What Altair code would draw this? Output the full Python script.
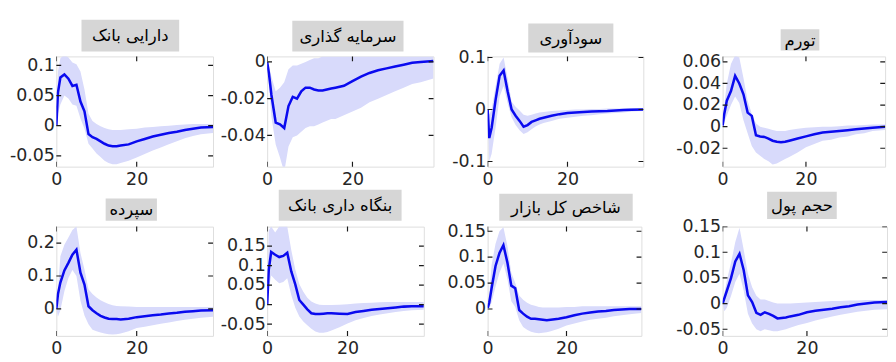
import altair as alt
import pandas as pd

# ---------------- data ----------------
T = [0, 0.4, 1, 2, 3, 4, 5, 6, 7, 8, 9, 10, 11, 12, 13, 14, 15, 16,
     18, 20, 22, 24, 26, 28, 30, 32, 34, 36, 39]

TITLES = ["دارایی بانک", "سرمایه گذاری", "سودآوری", "تورم",
          "سپرده", "بنگاه داری بانک", "شاخص کل بازار", "حجم پول"]

P1_MID = [0.0, 0.055, 0.08, 0.085, 0.078, 0.066, 0.068, 0.04, 0.024, -0.014, -0.019, -0.022, -0.026, -0.03, -0.033,
          -0.034, -0.034, -0.033, -0.031, -0.026, -0.022, -0.018, -0.015, -0.012, -0.01, -0.007, -0.005, -0.003, -0.002]
P1_HI = [0.0, 0.09, 0.112, 0.118, 0.113, 0.105, 0.102, 0.09, 0.06, 0.02, 0.008, 0.003, -0.001, -0.004, -0.006,
         -0.007, -0.007, -0.007, -0.006, -0.005, -0.003, -0.002, -0.001, 0.0, 0.001, 0.002, 0.003, 0.003, 0.003]
P1_LO = [0.0, 0.02, 0.035, 0.05, 0.045, 0.035, 0.033, 0.012, -0.005, -0.03, -0.038, -0.046, -0.052, -0.058, -0.062,
         -0.064, -0.064, -0.062, -0.058, -0.053, -0.047, -0.041, -0.036, -0.031, -0.026, -0.021, -0.017, -0.014, -0.012]

P2_MID = [0.0, -0.006, -0.018, -0.033, -0.034, -0.036, -0.024, -0.019, -0.02, -0.016, -0.014, -0.014, -0.015, -0.0155,
          -0.0155, -0.015, -0.0145, -0.014, -0.013, -0.0105, -0.008, -0.006, -0.0045, -0.0035, -0.0025, -0.0015,
          -0.0005, 0.0, 0.0005]
P2_HI = [0.0, -0.002, -0.008, -0.016, -0.014, -0.011, -0.004, -0.002, -0.002, -0.001, 0.0, 0.001, 0.002, 0.002,
         0.003, 0.003, 0.003, 0.003, 0.003, 0.003, 0.003, 0.003, 0.003, 0.003, 0.003, 0.003, 0.003, 0.003, 0.003]
P2_LO = [0.0, -0.012, -0.03, -0.045, -0.052, -0.06, -0.046, -0.041, -0.04, -0.038, -0.036, -0.035, -0.035, -0.034,
         -0.033, -0.032, -0.031, -0.031, -0.029, -0.027, -0.025, -0.022, -0.02, -0.018, -0.016, -0.014, -0.012,
         -0.011, -0.009]

P3_MID = [0.0, -0.055, -0.035, 0.019, 0.065, 0.075, 0.035, 0.0, -0.012, -0.022, -0.033, -0.03, -0.024, -0.021,
          -0.018, -0.016, -0.014, -0.012, -0.009, -0.007, -0.006, -0.005, -0.004, -0.0035, -0.003, -0.002, -0.0012,
          -0.0005, 0.0]
P3_HI = [0.0, -0.01, 0.0, 0.045, 0.088, 0.1, 0.06, 0.015, 0.005, -0.002, -0.01, -0.012, -0.01, -0.008, -0.006,
         -0.005, -0.004, -0.003, -0.002, -0.001, 0.0, 0.0, 0.001, 0.001, 0.002, 0.002, 0.002, 0.003, 0.003]
P3_LO = [0.0, -0.1, -0.085, -0.034, 0.025, 0.045, 0.012, -0.015, -0.03, -0.04, -0.047, -0.044, -0.038, -0.033,
         -0.029, -0.026, -0.024, -0.022, -0.018, -0.016, -0.014, -0.012, -0.011, -0.009, -0.008, -0.007, -0.006,
         -0.004, -0.003]

P4_MID = [0.001, 0.012, 0.024, 0.033, 0.047, 0.04, 0.03, 0.013, 0.01, -0.008, -0.009, -0.0095, -0.011, -0.013,
          -0.014, -0.0145, -0.014, -0.013, -0.011, -0.009, -0.007, -0.0055, -0.0048, -0.004, -0.0033, -0.0025,
          -0.0017, -0.001, 0.0]
P4_HI = [0.001, 0.02, 0.04, 0.058, 0.066, 0.064, 0.045, 0.024, 0.012, 0.003, 0.0, -0.001, -0.002, -0.003, -0.004,
         -0.004, -0.004, -0.003, -0.002, -0.001, -0.0005, 0.0, 0.0, 0.0005, 0.001, 0.001, 0.0015, 0.002, 0.002]
P4_LO = [0.001, 0.004, 0.01, 0.02, 0.028, 0.022, 0.006, -0.006, -0.018, -0.024, -0.027, -0.03, -0.032, -0.035,
         -0.034, -0.032, -0.03, -0.028, -0.024, -0.019, -0.016, -0.013, -0.012, -0.01, -0.009, -0.007, -0.006,
         -0.004, -0.003]

P5_MID = [0.0, 0.045, 0.08, 0.117, 0.14, 0.165, 0.18, 0.11, 0.074, 0.008, -0.004, -0.013, -0.021, -0.026, -0.03,
          -0.031, -0.031, -0.032, -0.03, -0.025, -0.022, -0.019, -0.017, -0.014, -0.012, -0.009, -0.007, -0.005,
          -0.004]
P5_HI = [0.0, 0.06, 0.16, 0.195, 0.217, 0.24, 0.25, 0.17, 0.12, 0.06, 0.045, 0.035, 0.026, 0.02, 0.015, 0.011,
         0.009, 0.008, 0.007, 0.006, 0.006, 0.006, 0.006, 0.006, 0.006, 0.006, 0.006, 0.006, 0.006]
P5_LO = [0.0, -0.024, -0.004, 0.054, 0.094, 0.118, 0.1, 0.025, -0.02, -0.047, -0.063, -0.068, -0.072, -0.075,
         -0.077, -0.078, -0.077, -0.075, -0.068, -0.058, -0.054, -0.05, -0.045, -0.041, -0.037, -0.033, -0.03,
         -0.027, -0.024]

P6_MID = [0.0, 0.09, 0.135, 0.128, 0.122, 0.125, 0.133, 0.085, 0.052, 0.012, 0.0, -0.012, -0.022, -0.024, -0.024,
          -0.023, -0.022, -0.022, -0.023, -0.024, -0.019, -0.016, -0.013, -0.011, -0.009, -0.007, -0.005, -0.004,
          -0.004]
P6_HI = [0.0, 0.19, 0.2, 0.185, 0.2, 0.2, 0.2, 0.14, 0.09, 0.053, 0.033, 0.018, 0.008, 0.003, 0.0, -0.001, -0.001,
         -0.001, 0.0, 0.001, 0.003, 0.004, 0.005, 0.006, 0.007, 0.007, 0.007, 0.007, 0.007]
P6_LO = [0.0, 0.04, 0.075, 0.064, 0.055, 0.058, 0.068, 0.025, -0.008, -0.03, -0.043, -0.053, -0.062, -0.069,
         -0.072, -0.072, -0.07, -0.066, -0.058, -0.048, -0.04, -0.034, -0.029, -0.025, -0.022, -0.019, -0.016,
         -0.014, -0.013]

P7_MID = [0.002, 0.012, 0.04, 0.083, 0.108, 0.123, 0.09, 0.045, 0.04, -0.002, -0.009, -0.015, -0.019, -0.019,
          -0.02, -0.021, -0.022, -0.021, -0.019, -0.016, -0.012, -0.009, -0.007, -0.005, -0.004, -0.002, -0.001,
          0.0, 0.0]
P7_HI = [0.002, 0.025, 0.085, 0.126, 0.15, 0.158, 0.122, 0.07, 0.05, 0.026, 0.018, 0.012, 0.008, 0.006, 0.004,
         0.003, 0.003, 0.003, 0.003, 0.004, 0.004, 0.005, 0.005, 0.005, 0.005, 0.005, 0.005, 0.005, 0.005]
P7_LO = [0.002, 0.0, 0.013, 0.043, 0.07, 0.088, 0.058, 0.015, 0.004, -0.022, -0.035, -0.04, -0.044, -0.046,
         -0.047, -0.046, -0.045, -0.043, -0.038, -0.032, -0.028, -0.024, -0.021, -0.019, -0.017, -0.014, -0.012,
         -0.01, -0.008]

P8_MID = [0.0, 0.01, 0.025, 0.05, 0.082, 0.097, 0.065, 0.016, 0.003, -0.018, -0.022, -0.017, -0.02, -0.024,
          -0.029, -0.028, -0.027, -0.025, -0.022, -0.017, -0.014, -0.012, -0.01, -0.007, -0.005, -0.002, 0.0, 0.002,
          0.003]
P8_HI = [0.0, 0.02, 0.045, 0.08, 0.12, 0.148, 0.105, 0.058, 0.032, 0.015, 0.008, 0.008, 0.005, 0.002, 0.0, 0.0,
         0.0, 0.0, 0.001, 0.002, 0.003, 0.004, 0.005, 0.005, 0.006, 0.006, 0.007, 0.007, 0.007]
P8_LO = [0.0, -0.015, -0.008, 0.015, 0.042, 0.058, 0.025, -0.02, -0.039, -0.05, -0.054, -0.05, -0.052, -0.054,
         -0.054, -0.052, -0.05, -0.047, -0.042, -0.038, -0.033, -0.029, -0.025, -0.022, -0.019, -0.016, -0.014,
         -0.012, -0.011]

MIDS = [P1_MID, P2_MID, P3_MID, P4_MID, P5_MID, P6_MID, P7_MID, P8_MID]
HIS = [P1_HI, P2_HI, P3_HI, P4_HI, P5_HI, P6_HI, P7_HI, P8_HI]
LOS = [P1_LO, P2_LO, P3_LO, P4_LO, P5_LO, P6_LO, P7_LO, P8_LO]

Y_TICKS = [
    [-0.05, 0, 0.05, 0.1],
    [-0.04, -0.02, 0],
    [-0.1, 0, 0.1],
    [-0.02, 0, 0.02, 0.04, 0.06],
    [0, 0.1, 0.2],
    [-0.05, 0, 0.05, 0.1, 0.15],
    [0, 0.05, 0.1, 0.15],
    [-0.05, 0, 0.05, 0.1, 0.15],
]
X_TICKS = [0, 20]

# ---------------- layout / style ----------------
Y_DOMAINS = [[-0.068, 0.115], [-0.057, 0.003], [-0.11, 0.102], [-0.037, 0.065],
             [-0.082, 0.25], [-0.08, 0.2], [-0.052, 0.159], [-0.063, 0.15]]
X_DOMAIN = [0, 39]
PANEL_W = [162, 172, 161, 168, 162, 162, 159, 170]
ROW_H = [114, 113]
GAPS = [[53, 49, 74], [56, 56, 82]]
BOXES = [(26, 127, -38, -5), (26, 141, -37, -5), (42, 130, -34, -4), (60, 100, -28, -6),
         (51, 104, -29, -6), (12, 139, -38, -6), (12, 150, -34, -6), (46, 118, -36, -8)]

FRAME = "#1a1a1a"
LINE = "#0a0aef"
BAND = "#d8dafb"
BOX_FILL = "#d6d6d6"
FONT = "DejaVu Sans"
LABEL_COLOR = "#262626"


def panel(i):
    w = PANEL_W[i]
    h = ROW_H[0] if i < 4 else ROW_H[1]
    df = pd.DataFrame({"t": T, "mid": MIDS[i], "lo": LOS[i], "hi": HIS[i]})
    xs = alt.Scale(domain=X_DOMAIN, nice=False, zero=False)
    ys = alt.Scale(domain=Y_DOMAINS[i], nice=False, zero=False)
    common = dict(ticks=False, domain=False, grid=False, title=None,
                  labelFont=FONT, labelFontSize=18, labelColor=LABEL_COLOR,
                  labelExpr="'' + datum.value")
    xax = alt.Axis(values=X_TICKS, labelFlush=False, labelPadding=4, **common)
    yax = alt.Axis(values=Y_TICKS[i], labelPadding=2, **common)

    base = alt.Chart(df)
    band = base.mark_area(color=BAND, opacity=1, clip=True).encode(
        x=alt.X("t:Q", scale=xs, axis=xax),
        y=alt.Y("lo:Q", scale=ys, axis=yax),
        y2="hi:Q",
    )
    line = base.mark_line(color=LINE, strokeWidth=2.6, clip=True).encode(
        x=alt.X("t:Q", scale=xs, axis=xax),
        y=alt.Y("mid:Q", scale=ys, axis=yax),
    )
    ydf = alt.Chart(pd.DataFrame({"v": Y_TICKS[i]}))
    xdf = alt.Chart(pd.DataFrame({"v": X_TICKS}))
    tick_style = dict(color=FRAME, thickness=1.2, size=10, clip=True, opacity=1)
    ytl = ydf.mark_tick(orient="horizontal", **tick_style).encode(
        y=alt.Y("v:Q", scale=ys, axis=yax), x=alt.value(0))
    ytr = ydf.mark_tick(orient="horizontal", **tick_style).encode(
        y=alt.Y("v:Q", scale=ys, axis=yax), x=alt.value(w))
    xtb = xdf.mark_tick(orient="vertical", **tick_style).encode(
        x=alt.X("v:Q", scale=xs, axis=xax), y=alt.value(h))
    xtt = xdf.mark_tick(orient="vertical", **tick_style).encode(
        x=alt.X("v:Q", scale=xs, axis=xax), y=alt.value(0))

    b = BOXES[i]
    tdf = alt.Chart(pd.DataFrame({"name": [TITLES[i]]}))
    box = tdf.mark_rect(color=BOX_FILL).encode(
        x=alt.value(b[0]), x2=alt.value(b[1]), y=alt.value(b[2]), y2=alt.value(b[3]))
    txt = tdf.mark_text(font=FONT, fontSize=17, color="#000000", align="center",
                        baseline="middle").encode(
        text="name:N", x=alt.value((b[0] + b[1]) / 2), y=alt.value((b[2] + b[3]) / 2 + 1))
    return alt.layer(band, line, ytl, ytr, xtb, xtt, box, txt).properties(width=w, height=h)


def spacer(wd, h):
    return alt.Chart(pd.DataFrame({"a": [0]})).mark_rect(opacity=0).encode(
        x=alt.value(0), x2=alt.value(1), y=alt.value(0), y2=alt.value(1)
    ).properties(width=wd, height=h, view=alt.ViewBackground(stroke="transparent"))


items = []
for r in range(2):
    for c in range(4):
        items.append(panel(r * 4 + c))
        if c < 3:
            items.append(spacer(GAPS[r][c], ROW_H[r]))

chart = alt.concat(
    *items, columns=7, spacing={"row": 62, "column": 0}, bounds="flush", align="none"
).properties(
    padding={"left": 0, "top": 5, "right": 0, "bottom": 0}
).configure_view(
    stroke=FRAME, strokeWidth=1.6
).configure(background="white")

chart.save("out.html", embed_options={"renderer": "svg", "actions": False})
